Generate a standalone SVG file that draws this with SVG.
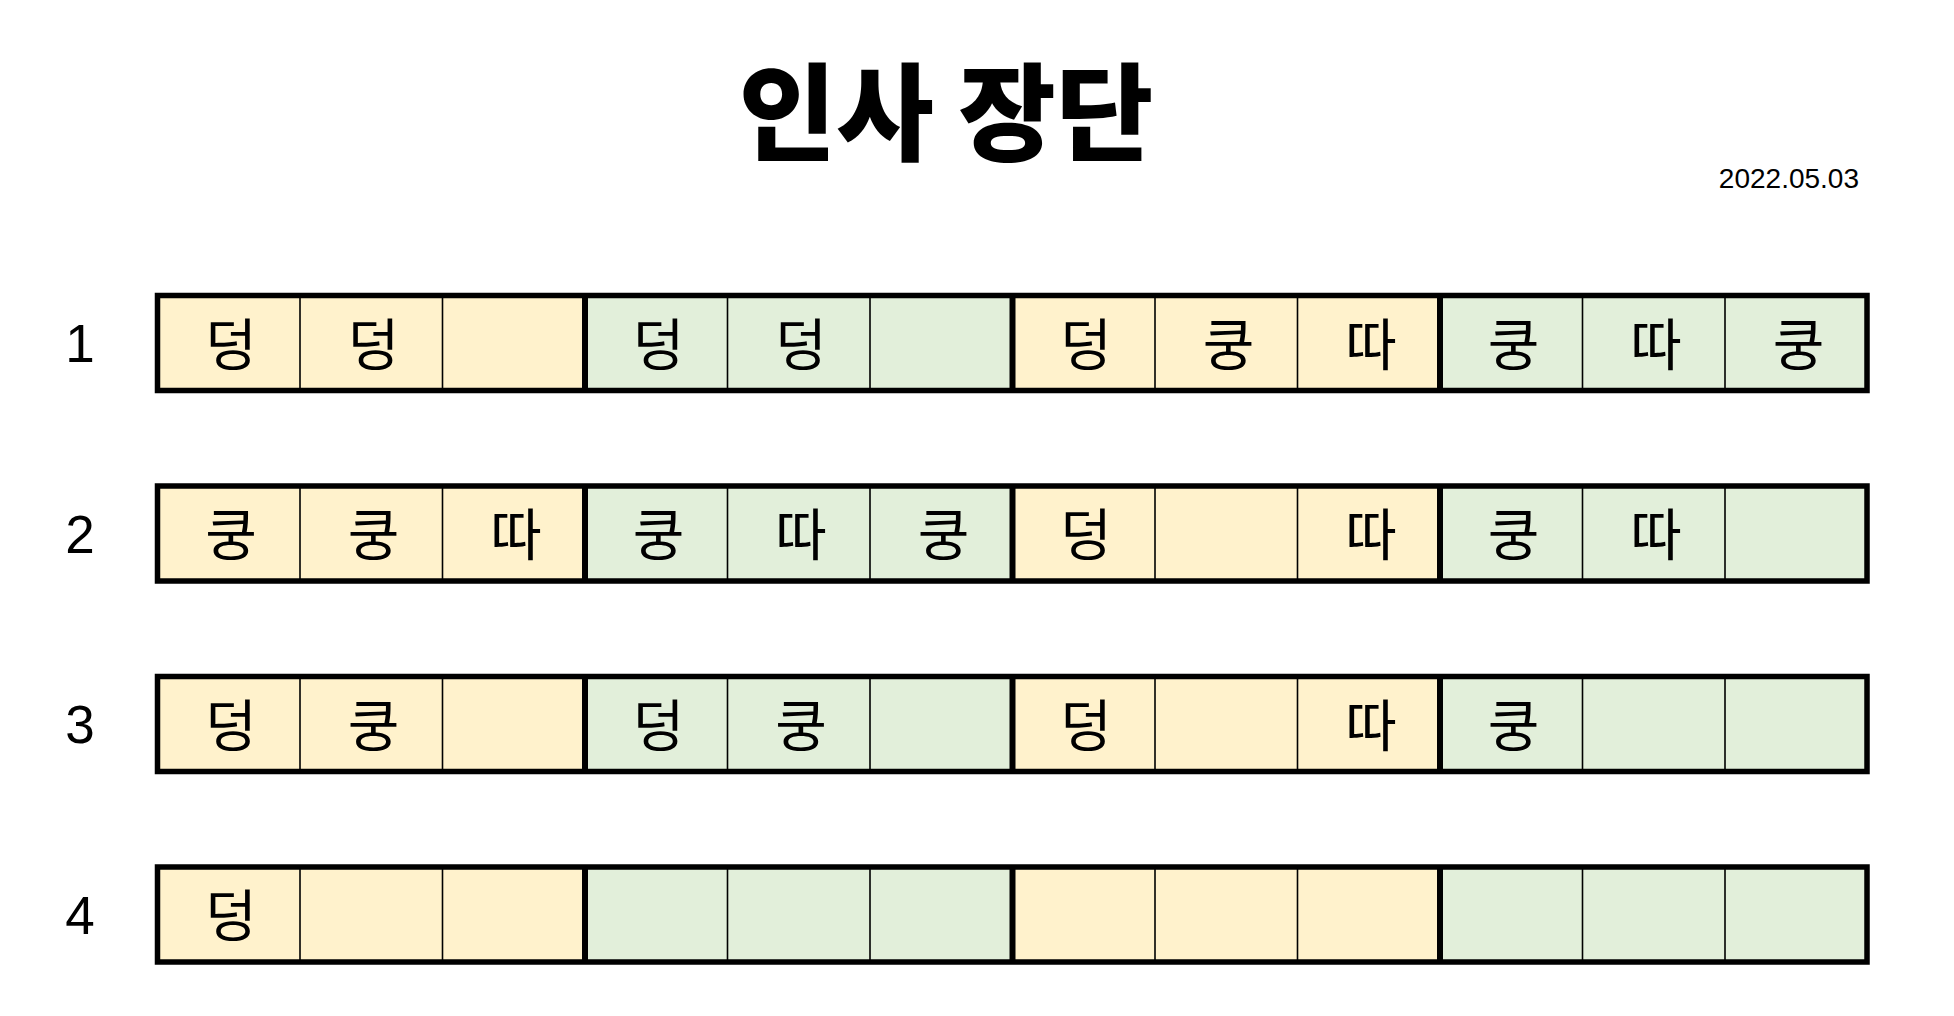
<svg xmlns="http://www.w3.org/2000/svg" width="1954" height="1016" viewBox="0 0 1954 1016">
<style>
.bg{fill:#ffffff}
.y{fill:#FFF2CC}
.g{fill:#E2EFDA}
.thin{stroke:#000;stroke-width:1.6}
.thick{stroke:#000;stroke-width:6}
.frame{fill:none;stroke:#000;stroke-width:5.5}
.cell{font-family:"Noto Sans CJK KR","Noto Sans",sans-serif;font-size:56px;fill:#000;text-anchor:middle;dominant-baseline:central}
.num{font-family:"Liberation Sans","Noto Sans",sans-serif;font-size:53px;fill:#000;text-anchor:middle}
.title{font-family:"Noto Sans CJK KR",sans-serif;font-size:106px;font-weight:900;fill:#000;text-anchor:middle;dominant-baseline:central}
.date{font-family:"Liberation Sans","Noto Sans",sans-serif;font-size:28px;fill:#000;text-anchor:end}
</style>
<rect class="bg" x="0" y="0" width="1954" height="1016"/>
<g id="header">
<text class="title" x="946" y="106">인사 장단</text>
<text class="date" x="1859" y="188">2022.05.03</text>
</g>
<g id="row1">
<text class="num" x="80" y="362">1</text>
<rect class="y" x="157.5" y="295.5" width="427.5" height="95"/>
<rect class="g" x="585" y="295.5" width="427.5" height="95"/>
<rect class="y" x="1012.5" y="295.5" width="427.5" height="95"/>
<rect class="g" x="1440" y="295.5" width="427" height="95"/>
<path class="thin" d="M300 295.5V390.5M442.5 295.5V390.5M727.5 295.5V390.5M870 295.5V390.5M1155 295.5V390.5M1297.5 295.5V390.5M1582.5 295.5V390.5M1725 295.5V390.5"/>
<path class="thick" d="M585 295.5V390.5M1012.5 295.5V390.5M1440 295.5V390.5"/>
<rect class="frame" x="157.5" y="295.5" width="1709.5" height="95"/>
<text class="cell" x="231" y="340">덩</text>
<text class="cell" x="373.5" y="340">덩</text>
<text class="cell" x="658.5" y="340">덩</text>
<text class="cell" x="801" y="340">덩</text>
<text class="cell" x="1086" y="340">덩</text>
<text class="cell" x="1228.5" y="340">쿵</text>
<text class="cell" x="1371" y="340">따</text>
<text class="cell" x="1513.5" y="340">쿵</text>
<text class="cell" x="1656" y="340">따</text>
<text class="cell" x="1798.5" y="340">쿵</text>
</g>
<g id="row2">
<text class="num" x="80" y="552.5">2</text>
<rect class="y" x="157.5" y="486" width="427.5" height="95"/>
<rect class="g" x="585" y="486" width="427.5" height="95"/>
<rect class="y" x="1012.5" y="486" width="427.5" height="95"/>
<rect class="g" x="1440" y="486" width="427" height="95"/>
<path class="thin" d="M300 486V581M442.5 486V581M727.5 486V581M870 486V581M1155 486V581M1297.5 486V581M1582.5 486V581M1725 486V581"/>
<path class="thick" d="M585 486V581M1012.5 486V581M1440 486V581"/>
<rect class="frame" x="157.5" y="486" width="1709.5" height="95"/>
<text class="cell" x="231" y="530.5">쿵</text>
<text class="cell" x="373.5" y="530.5">쿵</text>
<text class="cell" x="516" y="530.5">따</text>
<text class="cell" x="658.5" y="530.5">쿵</text>
<text class="cell" x="801" y="530.5">따</text>
<text class="cell" x="943.5" y="530.5">쿵</text>
<text class="cell" x="1086" y="530.5">덩</text>
<text class="cell" x="1371" y="530.5">따</text>
<text class="cell" x="1513.5" y="530.5">쿵</text>
<text class="cell" x="1656" y="530.5">따</text>
</g>
<g id="row3">
<text class="num" x="80" y="743">3</text>
<rect class="y" x="157.5" y="676.5" width="427.5" height="95"/>
<rect class="g" x="585" y="676.5" width="427.5" height="95"/>
<rect class="y" x="1012.5" y="676.5" width="427.5" height="95"/>
<rect class="g" x="1440" y="676.5" width="427" height="95"/>
<path class="thin" d="M300 676.5V771.5M442.5 676.5V771.5M727.5 676.5V771.5M870 676.5V771.5M1155 676.5V771.5M1297.5 676.5V771.5M1582.5 676.5V771.5M1725 676.5V771.5"/>
<path class="thick" d="M585 676.5V771.5M1012.5 676.5V771.5M1440 676.5V771.5"/>
<rect class="frame" x="157.5" y="676.5" width="1709.5" height="95"/>
<text class="cell" x="231" y="721">덩</text>
<text class="cell" x="373.5" y="721">쿵</text>
<text class="cell" x="658.5" y="721">덩</text>
<text class="cell" x="801" y="721">쿵</text>
<text class="cell" x="1086" y="721">덩</text>
<text class="cell" x="1371" y="721">따</text>
<text class="cell" x="1513.5" y="721">쿵</text>
</g>
<g id="row4">
<text class="num" x="80" y="933.5">4</text>
<rect class="y" x="157.5" y="867" width="427.5" height="95"/>
<rect class="g" x="585" y="867" width="427.5" height="95"/>
<rect class="y" x="1012.5" y="867" width="427.5" height="95"/>
<rect class="g" x="1440" y="867" width="427" height="95"/>
<path class="thin" d="M300 867V962M442.5 867V962M727.5 867V962M870 867V962M1155 867V962M1297.5 867V962M1582.5 867V962M1725 867V962"/>
<path class="thick" d="M585 867V962M1012.5 867V962M1440 867V962"/>
<rect class="frame" x="157.5" y="867" width="1709.5" height="95"/>
<text class="cell" x="231" y="911.5">덩</text>
</g>
</svg>
